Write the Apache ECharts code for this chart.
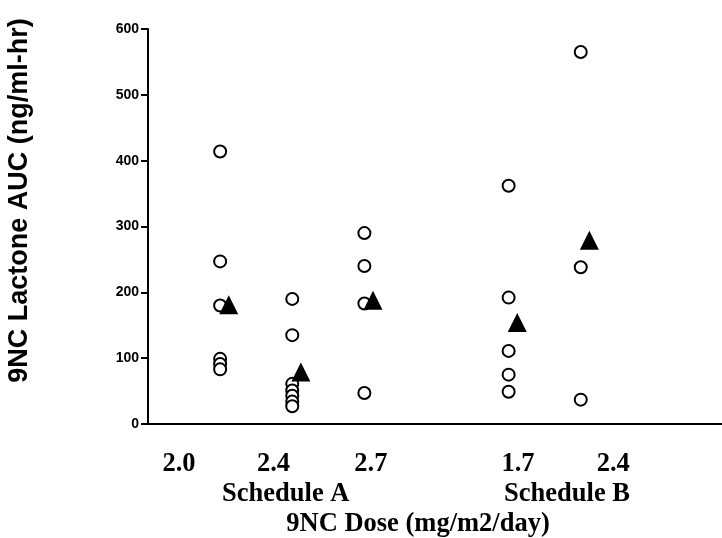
<!DOCTYPE html>
<html>
<head>
<meta charset="utf-8">
<script src="https://cdn.jsdelivr.net/npm/echarts@6/dist/echarts.min.js"></script>
<style>html,body{margin:0;padding:0;background:#fff;}#c{width:722px;height:538px;}</style>
</head>
<body>
<div id="c"></div>
<script>
// Group positions on the dose axis (category slots)
var groupPos = [1, 2, 3, 5, 6];
// Individual patient AUC values per dose group
var g1 = [414, 247, 180, 99, 91, 83];
var g2 = [190, 135, 61, 51, 43, 34, 27];
var g3 = [290, 240, 183, 47];
var g4 = [362, 192, 111, 75, 49];
var g5 = [565, 238, 37];
// Mean AUC per group (triangles)
var means = [181, 79, 188, 154, 279];
// Dose tick labels and their axis positions
var doseLabels = ['2.0', '2.4', '2.7', '1.7', '2.4'];
var dosePos = [0.43, 1.74, 3.09, 5.13, 6.45];
var scheduleLabels = ['Schedule A', 'Schedule B'];
var schedulePos = [1.91, 5.81];
var yTicks = [0, 100, 200, 300, 400, 500, 600];

var groups = [g1, g2, g3, g4, g5];
var circleData = [];
groups.forEach(function (g, i) {
  g.forEach(function (v) { circleData.push([groupPos[i], v]); });
});
var meanOffset = 0.12;
var meanData = means.map(function (v, i) { return [groupPos[i] + meanOffset, v]; });

function labelFor(values, labels) {
  return function (val) {
    var best = 0, bd = Infinity;
    for (var i = 0; i < values.length; i++) {
      var d = Math.abs(values[i] - val);
      if (d < bd) { bd = d; best = i; }
    }
    return labels[best];
  };
}

var chart = echarts.init(document.getElementById('c'), null, { renderer: 'canvas' });
chart.setOption({
  animation: false,
  backgroundColor: '#ffffff',
  grid: { left: 148, top: 29, width: 577, height: 395, containLabel: false, outerBoundsMode: 'none' },
  xAxis: [
    {
      type: 'value', min: 0, max: 8, position: 'bottom',
      axisLine: { show: true, onZero: false, lineStyle: { color: '#000', width: 2 } },
      axisTick: { show: false },
      splitLine: { show: false },
      axisLabel: {
        customValues: dosePos,
        formatter: labelFor(dosePos, doseLabels),
        margin: 27,
        color: '#000',
        fontFamily: 'Liberation Serif',
        fontWeight: 'bold',
        fontSize: 26.5
      },
      name: '9NC Dose (mg/m2/day)',
      nameLocation: 'middle',
      nameGap: 87,
      nameTextStyle: {
        color: '#000', fontFamily: 'Liberation Serif', fontWeight: 'bold', fontSize: 26.5,
        padding: [0, 37, 0, 0]
      }
    },
    {
      type: 'value', min: 0, max: 8, position: 'bottom',
      axisLine: { show: false },
      axisTick: { show: false },
      splitLine: { show: false },
      axisLabel: {
        customValues: schedulePos,
        formatter: labelFor(schedulePos, scheduleLabels),
        margin: 57,
        color: '#000',
        fontFamily: 'Liberation Serif',
        fontWeight: 'bold',
        fontSize: 26.5
      }
    }
  ],
  yAxis: {
    type: 'value', min: yTicks[0], max: yTicks[yTicks.length - 1], interval: 100,
    axisLine: { show: true, lineStyle: { color: '#000', width: 2 } },
    axisTick: { show: true, inside: false, length: 7, lineStyle: { color: '#000', width: 2 } },
    splitLine: { show: false },
    axisLabel: {
      margin: 9, color: '#000',
      fontFamily: 'Liberation Sans', fontWeight: 'bold', fontSize: 14
    },
    name: '9NC Lactone AUC (ng/ml-hr)',
    nameLocation: 'middle',
    nameGap: 115,
    nameRotate: 90,
    nameTextStyle: {
      color: '#000', fontFamily: 'Liberation Sans', fontWeight: 'bold', fontSize: 27,
      padding: [0, 0, 0, 52]
    }
  },
  series: [
    {
      type: 'scatter', name: 'Individual', data: circleData,
      symbol: 'circle', symbolSize: 12,
      itemStyle: { color: '#ffffff', borderColor: '#000', borderWidth: 2, opacity: 1 },
      z: 2
    },
    {
      type: 'scatter', name: 'Mean', data: meanData,
      symbol: 'triangle', symbolSize: [19, 19],
      itemStyle: { color: '#000', borderWidth: 0, opacity: 1 },
      z: 3
    }
  ]
});
</script>
</body>
</html>
